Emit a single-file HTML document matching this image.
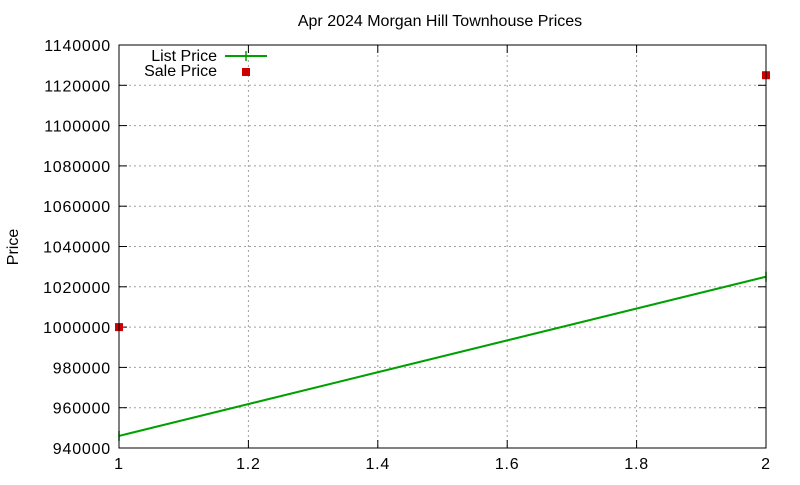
<!DOCTYPE html>
<html><head><meta charset="utf-8"><style>
body{margin:0;background:#fff;}
svg text{font-family:"Liberation Sans",sans-serif;font-size:16px;fill:#000;}
svg text.tick{letter-spacing:0.8px;}
</style></head><body>
<svg id="chart" width="800" height="480" xmlns="http://www.w3.org/2000/svg">
<text x="440" y="26" text-anchor="middle">Apr 2024 Morgan Hill Townhouse Prices</text>
<text transform="translate(18,247) rotate(-90)" text-anchor="middle">Price</text>
<g id="grid"></g><g id="axes"></g><g id="series"></g>
<rect x="119" y="45" width="647" height="403" fill="none" stroke="#000" stroke-width="1"/>
<g>
<text x="217" y="61" text-anchor="end">List Price</text>
<line x1="225" y1="56" x2="267" y2="56" stroke="#00a000" stroke-width="2"/>
<line x1="246" y1="51" x2="246" y2="61" stroke="#00a000" stroke-width="1.5"/>
<text x="217" y="76" text-anchor="end">Sale Price</text>
<rect x="242" y="68" width="8" height="8" fill="#cc0000"/>
</g>
</svg>
<script>
const xTicks=[1,1.2,1.4,1.6,1.8,2];
const xTickLabels=["1","1.2","1.4","1.6","1.8","2"];
const yTicks=[940000,960000,980000,1000000,1020000,1040000,1060000,1080000,1100000,1120000,1140000];
const xs=[1,2];
const listPrice=[946000,1025000];
const salePrice=[1000000,1125000];
const X=v=>119+(v-1)/(2-1)*647;
const Y=v=>448-(v-940000)/(1140000-940000)*403;
const NS="http://www.w3.org/2000/svg";
function mk(tag,attrs,parent){const e=document.createElementNS(NS,tag);for(const k in attrs)e.setAttribute(k,attrs[k]);parent.appendChild(e);return e;}
const grid=document.getElementById('grid'),axes=document.getElementById('axes'),series=document.getElementById('series');
yTicks.forEach(t=>{const y=Y(t);
 const g=mk('line',{x1:119,x2:766,y1:y,y2:y,stroke:'#a0a0a0','stroke-dasharray':'2,3'},grid);
 
 
 mk('line',{x1:119,x2:127,y1:y,y2:y,stroke:'#000'},axes);
 mk('line',{x1:758,x2:766,y1:y,y2:y,stroke:'#000'},axes);
 const tx=mk('text',{x:111,y:y+6,'text-anchor':'end','class':'tick'},axes);tx.textContent=t;
 
 
});
xTicks.forEach((t,i)=>{const x=X(t);
 const g=mk('line',{x1:x,x2:x,y1:45,y2:448,stroke:'#a0a0a0','stroke-dasharray':'2,3'},grid);
 
 
 mk('line',{x1:x,x2:x,y1:440,y2:448,stroke:'#000'},axes);
 mk('line',{x1:x,x2:x,y1:45,y2:53,stroke:'#000'},axes);
 const tx=mk('text',{x:x,y:469,'text-anchor':'middle','class':'tick'},axes);tx.textContent=xTickLabels[i];
 
 
});
const pl=mk('polyline',{points:xs.map((v,i)=>X(v)+','+Y(listPrice[i])).join(' '),fill:'none',stroke:'#00a000','stroke-width':2},series);


xs.forEach((v,i)=>{
 const m=mk('line',{x1:X(v),x2:X(v),y1:Y(listPrice[i])-5,y2:Y(listPrice[i])+5,stroke:'#00a000','stroke-width':1.5},series);
 
 
 const r=mk('rect',{x:X(v)-4,y:Y(salePrice[i])-4,width:8,height:8,fill:'#cc0000'},series);
 
 
});
</script>
</body></html>
